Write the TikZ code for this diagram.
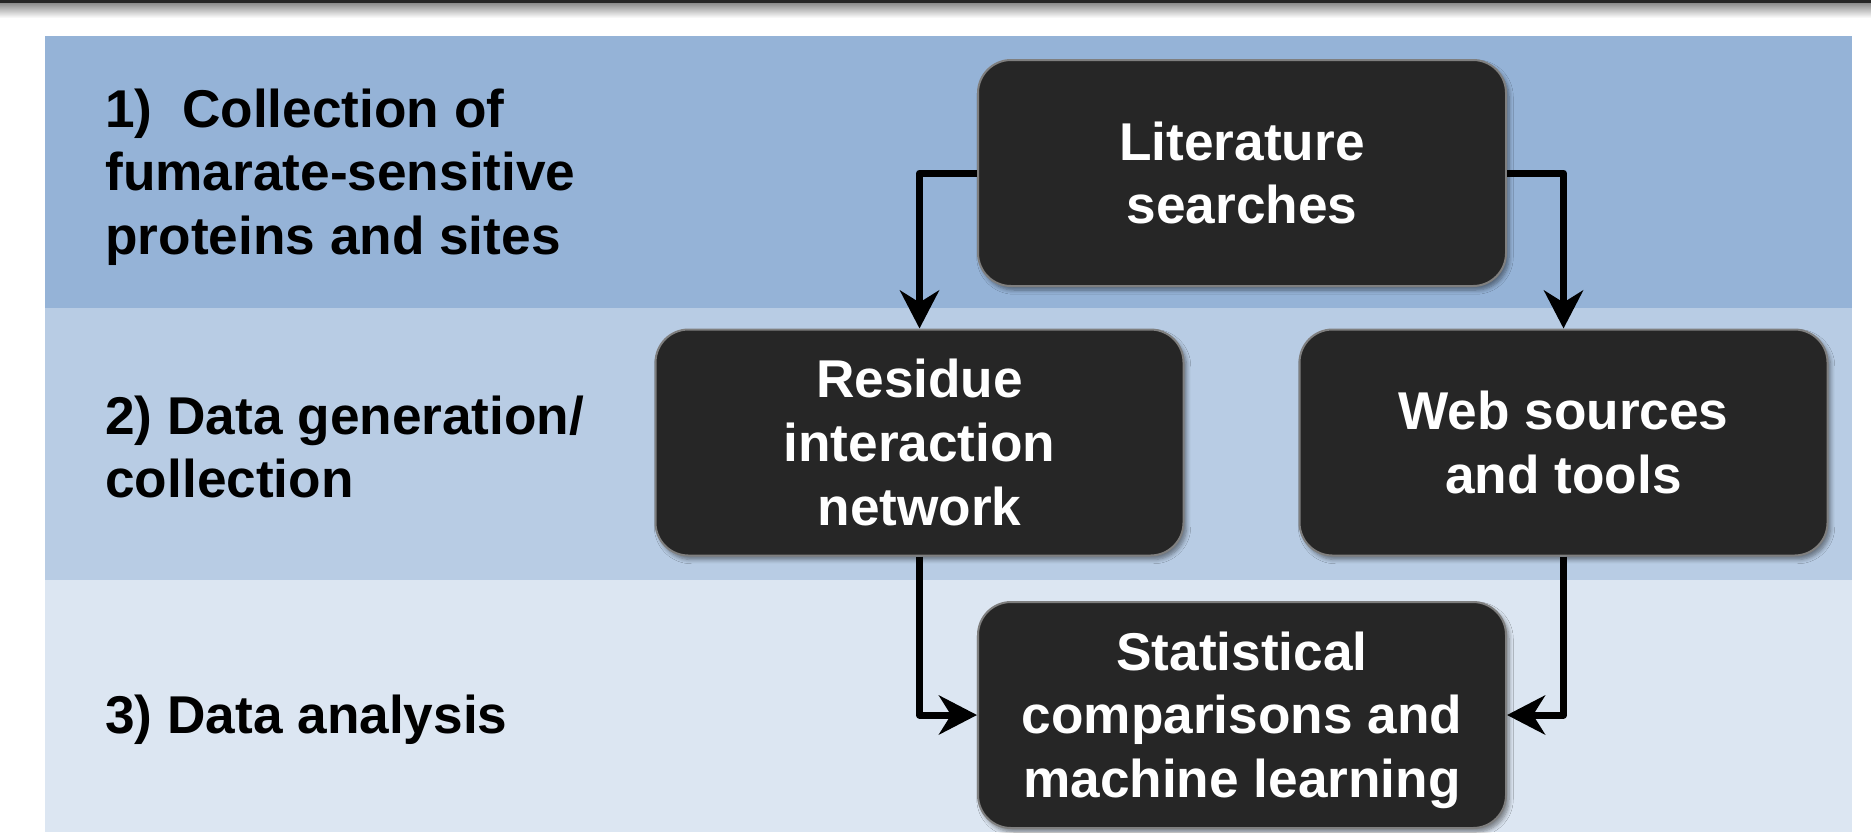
\documentclass[tikz,border=0pt]{standalone}
\usepackage{fontspec}
\setmainfont{Liberation Sans}
\usetikzlibrary{arrows.meta,shadows.blur}
\definecolor{bandA}{HTML}{95B3D7}
\definecolor{bandB}{HTML}{B8CCE4}
\definecolor{bandC}{HTML}{DCE6F2}
\definecolor{boxfill}{HTML}{262626}
\definecolor{boxedge}{HTML}{7F7F7F}
\tikzset{
  txt/.style={font=\fontsize{26.6pt}{31.8pt}\selectfont\bfseries},
  lbl/.style={txt, anchor=west, align=left, inner sep=0pt, text=black},
  boxtext/.style={txt, text=white, align=center, inner sep=0pt},
  stagebox/.style={txt, text=white, fill=boxfill, draw=boxedge, line width=1pt,
    rounded corners=16.5pt, minimum width=264pt, minimum height=113pt, align=center,
    blur shadow={shadow xshift=1.5pt, shadow yshift=-2pt, shadow blur steps=6, shadow opacity=45}},
  conn/.style={line width=3.5pt, line join=round, -{Stealth[length=19pt,width=19.5pt,inset=6pt]}}
}
\begin{document}
\begin{tikzpicture}[x=0.5pt,y=-0.5pt]
\useasboundingbox (0,0) rectangle (1871,832);
\fill[white] (0,0) rectangle (1871,832);
\shade[top color=black!45, bottom color=white] (0,3) rectangle (1871,18);
\fill[black!85] (0,0) rectangle (1871,3);
% bands
\fill[bandA] (45,36) rectangle (1852,308);
\fill[bandB] (45,308) rectangle (1852,580);
\fill[bandC] (45,580) rectangle (1852,832);
% labels
\node[lbl] (l1) at (105,177) {1)~~Collection of\\fumarate-sensitive\\proteins and sites};
\node[lbl] (l2) at (105,447) {2) Data generation/\\collection};
\node[lbl] (l3) at (105,720) {3) Data analysis};
% boxes
\node[stagebox] (lit) at (1242,173) {Literature\\searches};
\node[stagebox] (res) at (919.5,442.5) {Residue\\interaction\\network};
\node[stagebox] (web) at (1563.5,442.5) {Web sources\\and tools};
\node[stagebox] (stat) at (1242,715) {};
\node[boxtext, yshift=-2.5pt] (statt) at (stat.center) {Statistical\\comparisons and\\machine learning};
% connectors
\draw[conn] (lit.west) -| (res.north);
\draw[conn] (lit.east) -| (web.north);
\draw[conn] (res.south) |- (stat.west);
\draw[conn] (web.south) |- (stat.east);
\end{tikzpicture}
\end{document}
